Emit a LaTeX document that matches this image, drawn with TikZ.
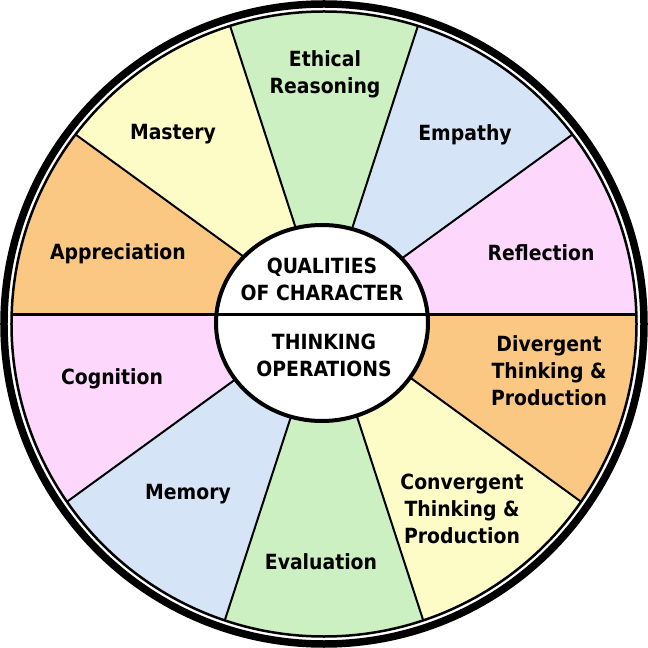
\documentclass[tikz,border=0pt]{standalone}
\usepackage{fontspec}
\setmainfont{DejaVu Sans Condensed}
\definecolor{secgreen}{RGB}{204,240,193}
\definecolor{secblue}{RGB}{214,228,248}
\definecolor{secpink}{RGB}{253,216,252}
\definecolor{secorange}{RGB}{251,200,132}
\definecolor{secyellow}{RGB}{254,252,198}
\tikzset{
    seclabel/.style={align=center, inner sep=0pt, font=\fontsize{21}{27}\selectfont\bfseries},
}
\begin{document}
\begin{tikzpicture}[x=1bp, y=1bp]
    \useasboundingbox (-324,-324) rectangle (324,324);
    \coordinate (hub) at (0,9);

    \begin{scope}
        \clip (0,0) circle (312);
        \foreach \a/\col in {0/secpink, 36/secblue, 72/secgreen, 108/secyellow, 144/secorange,
                             180/secpink, 216/secblue, 252/secgreen, 288/secyellow, 324/secorange} {
            \fill[\col] (hub) -- ++(\a:400) arc[start angle=\a, end angle=\a+36, radius=400] -- cycle;
        }
        \foreach \a in {36,72,108,144,216,252,288,324}
            \draw[line width=2bp] (hub) -- ++(\a:400);
    \end{scope}

    \draw[line width=2.5bp] (0,0) circle (312.5);
    \draw[line width=7.5bp] (0,0) circle (320);
    \draw[line width=4bp, fill=white] (-2,1) ellipse [x radius=106, y radius=98];
    \draw[line width=3bp] (-312,9) -- (312,9);

    \node[seclabel] (ethical) at (1,250) {Ethical\\Reasoning};
    \node[seclabel] (mastery) at (-151,190) {Mastery};
    \node[seclabel] (empathy) at (141,189) {Empathy};
    \node[seclabel] (appreciation) at (-206,70) {Appreciation};
    \node[seclabel] (reflection) at (217,71) {Reflection};
    \node[seclabel] (qualities) at (-2,45) {QUALITIES\\OF CHARACTER};
    \node[seclabel] (thinking) at (0,-31) {THINKING\\OPERATIONS};
    \node[seclabel] (cognition) at (-212,-55) {Cognition};
    \node[seclabel] (memory) at (-136,-170) {Memory};
    \node[seclabel] (evaluation) at (-3,-238) {Evaluation};
    \node[seclabel] (divergent) at (225,-47) {Divergent\\Thinking \&\\Production};
    \node[seclabel] (convergent) at (138,-185) {Convergent\\Thinking \&\\Production};
\end{tikzpicture}
\end{document}
